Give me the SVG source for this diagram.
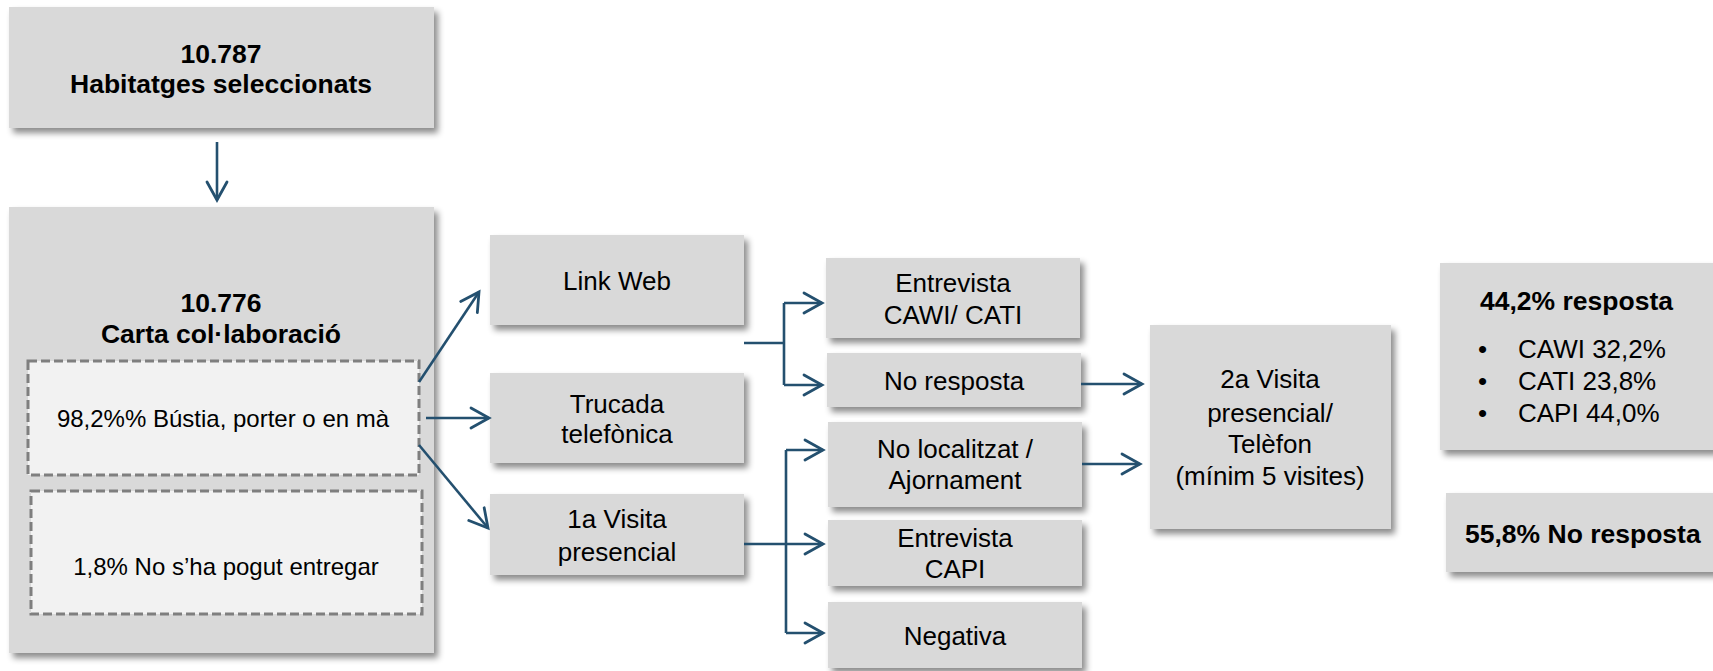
<svg xmlns="http://www.w3.org/2000/svg" width="1713" height="671" viewBox="0 0 1713 671">
<style>
.box{fill:#D9D9D9;filter:url(#sh);}
.dash{fill:#F2F2F2;stroke:#7F7F7F;stroke-width:3;stroke-dasharray:9 4;}
text{font-family:"Liberation Sans",Arial,sans-serif;fill:#000;}
.t{font-size:26px;text-anchor:middle;}
.d{font-size:24px;text-anchor:middle;}
.b{font-size:26.5px;font-weight:bold;text-anchor:middle;}
.bl{font-size:26.5px;font-weight:bold;}
.l{font-size:26px;}
.c{fill:none;stroke:#24506F;stroke-width:2.6;}
.a{marker-end:url(#ar);}
</style>
<defs>
<filter id="sh" x="-10%" y="-10%" width="130%" height="130%">
<feDropShadow dx="4" dy="5" stdDeviation="3" flood-color="#000" flood-opacity="0.45"/>
</filter>
<marker id="ar" markerUnits="userSpaceOnUse" markerWidth="30" markerHeight="30" viewBox="-22 -15 30 30" refX="0" refY="0" orient="auto">
<path d="M-18,-10 L0,0 L-18,10" fill="none" stroke="#24506F" stroke-width="2.8" stroke-linecap="round" stroke-linejoin="miter"/>
</marker>
</defs>

<g id="n-habitatges">
<rect class="box" x="9" y="7" width="425" height="121"/>
<text class="b" x="221" y="63">10.787</text>
<text class="b" x="221" y="93">Habitatges seleccionats</text>
</g>

<g id="n-carta">
<rect class="box" x="9" y="207" width="425" height="446"/>
<text class="b" x="221" y="312">10.776</text>
<text class="b" x="221" y="343">Carta col·laboració</text>
</g>

<g id="n-bustia">
<rect class="dash" x="28" y="361" width="391" height="114"/>
<text class="d" x="223" y="427">98,2%% Bústia, porter o en mà</text>
</g>

<g id="n-noentregat">
<rect class="dash" x="31" y="491" width="391" height="123"/>
<text class="d" x="226" y="575">1,8% No s’ha pogut entregar</text>
</g>

<g id="n-linkweb">
<rect class="box" x="490" y="235" width="254" height="90"/>
<text class="t" x="617" y="290">Link Web</text>
</g>

<g id="n-trucada">
<rect class="box" x="490" y="373" width="254" height="90"/>
<text class="t" x="617" y="413">Trucada</text>
<text class="t" x="617" y="443">telefònica</text>
</g>

<g id="n-visita1">
<rect class="box" x="490" y="494" width="254" height="81"/>
<text class="t" x="617" y="528">1a Visita</text>
<text class="t" x="617" y="561">presencial</text>
</g>

<g id="n-cawi">
<rect class="box" x="826" y="258" width="254" height="80"/>
<text class="t" x="953" y="292">Entrevista</text>
<text class="t" x="953" y="324">CAWI/ CATI</text>
</g>

<g id="n-noresposta">
<rect class="box" x="827" y="353" width="254" height="54"/>
<text class="t" x="954" y="390">No resposta</text>
</g>

<g id="n-nolocalitzat">
<rect class="box" x="828" y="422" width="254" height="85"/>
<text class="t" x="955" y="458">No localitzat /</text>
<text class="t" x="955" y="489">Ajornament</text>
</g>

<g id="n-capi">
<rect class="box" x="828" y="520" width="254" height="66"/>
<text class="t" x="955" y="547">Entrevista</text>
<text class="t" x="955" y="578">CAPI</text>
</g>

<g id="n-negativa">
<rect class="box" x="828" y="602" width="254" height="66"/>
<text class="t" x="955" y="645">Negativa</text>
</g>

<g id="n-visita2">
<rect class="box" x="1150" y="325" width="241" height="204"/>
<text class="t" x="1270" y="388">2a Visita</text>
<text class="t" x="1270" y="422">presencial/</text>
<text class="t" x="1270" y="453">Telèfon</text>
<text class="t" x="1270" y="485">(mínim 5 visites)</text>
</g>

<g id="n-resposta">
<rect class="box" x="1440" y="263" width="290" height="187"/>
<text class="bl" x="1480" y="310">44,2% resposta</text>
<text class="l" x="1478" y="358">•</text>
<text class="l" x="1518" y="358">CAWI 32,2%</text>
<text class="l" x="1478" y="390">•</text>
<text class="l" x="1518" y="390">CATI 23,8%</text>
<text class="l" x="1478" y="422">•</text>
<text class="l" x="1518" y="422">CAPI 44,0%</text>
</g>

<g id="n-noresp-final">
<rect class="box" x="1446" y="493" width="290" height="79"/>
<text class="bl" x="1465" y="543">55,8% No resposta</text>
</g>

<g id="connectors">
<path class="c a" d="M217,142 V200"/>
<path class="c a" d="M419,382 L479,292"/>
<path class="c a" d="M426,418 H489"/>
<path class="c a" d="M419,445 L488,528"/>
<path class="c" d="M744,343 H784 M784,303 V385"/>
<path class="c a" d="M784,303 H822"/>
<path class="c a" d="M784,385 H822"/>
<path class="c" d="M744,544 H786 M786,450 V633"/>
<path class="c a" d="M786,450 H823"/>
<path class="c a" d="M786,544 H823"/>
<path class="c a" d="M786,633 H823"/>
<path class="c a" d="M1081,384 H1142"/>
<path class="c a" d="M1082,464 H1140"/>
</g>
</svg>
